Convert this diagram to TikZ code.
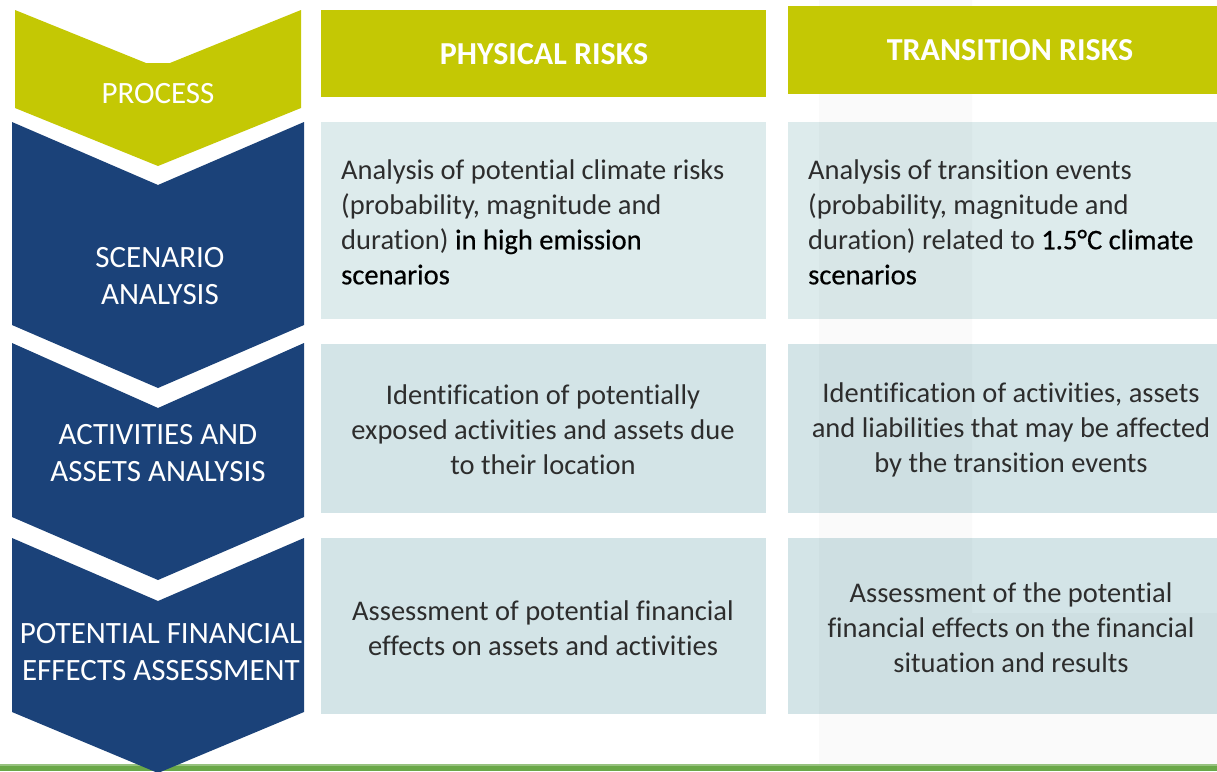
\documentclass[tikz,border=0pt]{standalone}
\usepackage{fontspec}
\setmainfont{Carlito}[Ligatures=NoCommon]
\newfontfamily\emphfont{Carlito}[FakeBold=0.5,Ligatures=NoCommon]
\definecolor{olive}{RGB}{196,200,4}
\definecolor{navy}{RGB}{27,66,121}
\definecolor{boxA}{RGB}{221,235,236}
\definecolor{boxB}{RGB}{211,228,231}
\definecolor{gline}{RGB}{106,168,72}
\definecolor{lighttext}{RGB}{45,45,45}
\begin{document}
\begin{tikzpicture}[x=1pt,y=-1pt,
  chevtext/.style={text=white,font=\fontsize{31}{37.5}\selectfont,align=center,inner sep=0pt},
  headtext/.style={text=white,font=\fontsize{32}{34}\selectfont\bfseries,inner sep=0pt},
  bodytext/.style={text=lighttext,font=\fontsize{28.5}{35}\selectfont,inner sep=0pt}]
\useasboundingbox (0,0) rectangle (1217,771);
\fill[white] (0,0) rectangle (1217,771);
% green base line
\fill[gline] (0,765) rectangle (1217,771);
\fill[gline!70!white] (0,764) rectangle (1217,765.5);
% chevrons
\fill[olive] (15,10) -- (146,63) -- (170,63) -- (301,10) -- (301,108) -- (158,166) -- (15,108) -- cycle;
\fill[navy] (12,122) -- (158,185) -- (304,122) -- (304,325) -- (158,388) -- (12,325) -- cycle;
\fill[navy] (12,343) -- (158,408) -- (304,343) -- (304,517) -- (158,580) -- (12,517) -- cycle;
\fill[navy] (12,538) -- (158,601) -- (304,538) -- (304,712) -- (158,773) -- (12,712) -- cycle;
% content boxes
\fill[boxA] (321,122) rectangle (766,319);
\fill[boxA] (788,122) rectangle (1217,319);
\fill[boxB] (321,344) rectangle (766,513);
\fill[boxB] (788,344) rectangle (1217,513);
\fill[boxB] (321,538) rectangle (766,714);
\fill[boxB] (788,538) rectangle (1217,714);
% faint overlay band
\fill[black,opacity=0.02] (819,0) -- (972,0) -- (972,613) -- (1217,613) -- (1217,764) -- (819,764) -- cycle;
% headers
\fill[olive] (321,10) rectangle (766,97);
\fill[olive] (788,6) rectangle (1217,94);
% labels in chevrons
\node[chevtext] (process) at (158,94) {PROCESS};
\node[chevtext] (scen) at (160,276) {SCENARIO\\ANALYSIS};
\node[chevtext] (act) at (158,453) {ACTIVITIES AND\\ASSETS ANALYSIS};
\node[chevtext] (fin) at (161,652) {POTENTIAL FINANCIAL\\EFFECTS ASSESSMENT};
% headers text
\node[headtext] (phys) at (544,54) {PHYSICAL RISKS};
\node[headtext] (trans) at (1010,50) {TRANSITION RISKS};
% row 1
\node[bodytext,anchor=west,align=left] (p1) at (341,222) {Analysis of potential climate risks\\(probability, magnitude and\\duration) \textcolor{black}{\emphfont in high emission}\\\textcolor{black}{\emphfont scenarios}};
\node[bodytext,anchor=west,align=left] (t1) at (808,222) {Analysis of transition events\\(probability, magnitude and\\duration) related to \textcolor{black}{\emphfont 1.5°C climate}\\\textcolor{black}{\emphfont scenarios}};
% row 2
\node[bodytext,align=center] (p2) at (543,430) {Identification of potentially\\exposed activities and assets due\\to their location};
\node[bodytext,align=center] (t2) at (1011,430) {Identification of activities, assets\\and liabilities that may be affected\\by the transition events};
% row 3
\node[bodytext,align=center] (p3) at (543,628) {Assessment of potential financial\\effects on assets and activities};
\node[bodytext,align=center] (t3) at (1011,628) {Assessment of the potential\\financial effects on the financial\\situation and results};
\end{tikzpicture}
\end{document}
